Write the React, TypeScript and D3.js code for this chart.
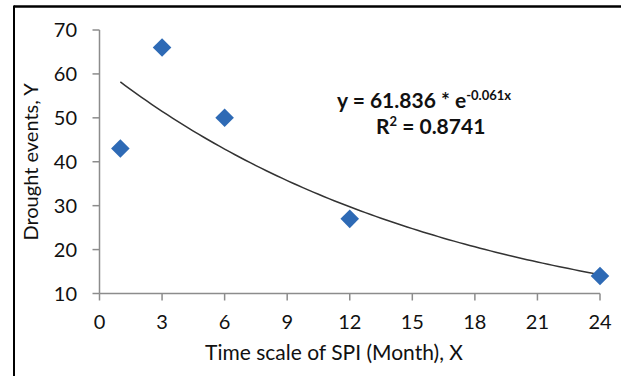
import React from "react";
import * as d3 from "d3";

const xValues = [1, 3, 6, 12, 24];
const yValues = [43, 66, 50, 27, 14];
const xTicks = [0, 3, 6, 9, 12, 15, 18, 21, 24];
const yTicks = [10, 20, 30, 40, 50, 60, 70];
const fitA = 61.836;
const fitB = -0.061;
const xTitle = "Time scale of SPI (Month), X";
const yTitle = "Drought events, Y";

const W = 621;
const H = 376;
const FONT = "Lato, 'Open Sans', sans-serif";

export default function App() {
  const x = d3.scaleLinear().domain([0, 24]).range([99.5, 600]);
  const y = d3.scaleLinear().domain([10, 70]).range([293.5, 30]);
  const fitPts = d3.range(1, 24.01, 0.25).map((v) => [v, fitA * Math.exp(fitB * v)] as [number, number]);
  const line = d3
    .line<[number, number]>()
    .x((d) => x(d[0]))
    .y((d) => y(d[1]))
    .curve(d3.curveLinear);
  const diamond = d3.symbol().type(d3.symbolDiamond2).size(220)();
  const axisColor = "#8c8c8c";
  const textColor = "#111";
  return (
    <svg
      width={W}
      height={H}
      style={{ position: "absolute", left: 0, top: 0, background: "#fff" }}
      fontFamily={FONT}
    >
      <rect x={0} y={0} width={W} height={H} fill="#fff" />
      {/* frame */}
      <line x1={14} y1={6.5} x2={W} y2={6.5} stroke="#000" strokeWidth={2.5} />
      <line x1={14} y1={5.5} x2={14} y2={H} stroke="#000" strokeWidth={2} />
      {/* axes */}
      <line x1={x(0)} y1={y(70)} x2={x(0)} y2={y(10)} stroke={axisColor} strokeWidth={1.5} />
      <line x1={x(0)} y1={y(10)} x2={x(24)} y2={y(10)} stroke={axisColor} strokeWidth={1.5} />
      {yTicks.map((t) => (
        <g key={"y" + t}>
          <line x1={x(0) - 7} x2={x(0)} y1={y(t)} y2={y(t)} stroke={axisColor} strokeWidth={1.5} />
          <text x={77} y={y(t)} dy="0.36em" textAnchor="end" fontSize={20} fill={textColor}>
            {t}
          </text>
        </g>
      ))}
      {xTicks.map((t) => (
        <g key={"x" + t}>
          <line x1={x(t)} x2={x(t)} y1={y(10)} y2={y(10) + 7} stroke={axisColor} strokeWidth={1.5} />
          <text x={x(t)} y={322} dy="0.36em" textAnchor="middle" fontSize={20} fill={textColor}>
            {t}
          </text>
        </g>
      ))}
      <text x={334} y={352} dy="0.36em" textAnchor="middle" fontSize={21} fill={textColor}>
        {xTitle}
      </text>
      <text
        transform={`translate(31,162) rotate(-90)`}
        dy="0.36em"
        textAnchor="middle"
        fontSize={20}
        fill={textColor}
      >
        {yTitle}
      </text>
      {/* trendline */}
      <path d={line(fitPts) || ""} fill="none" stroke="#333" strokeWidth={1.5} />
      {/* points */}
      {xValues.map((xv, i) => (
        <path key={i} d={diamond || ""} transform={`translate(${x(xv)},${y(yValues[i])})`} fill="#2e6ab5" />
      ))}
      {/* equation */}
      <text x={337} y={100} dy="0.36em" fontSize={21} fontWeight="bold" fill={textColor}>
        y = 61.836 * e
        <tspan fontSize={13} dy="-8">-0.061x</tspan>
      </text>
      <text x={376} y={126} dy="0.36em" fontSize={21} fontWeight="bold" fill={textColor}>
        R<tspan fontSize={13} dy="-8">2</tspan>
        <tspan dy="8"> = 0.8741</tspan>
      </text>
    </svg>
  );
}
